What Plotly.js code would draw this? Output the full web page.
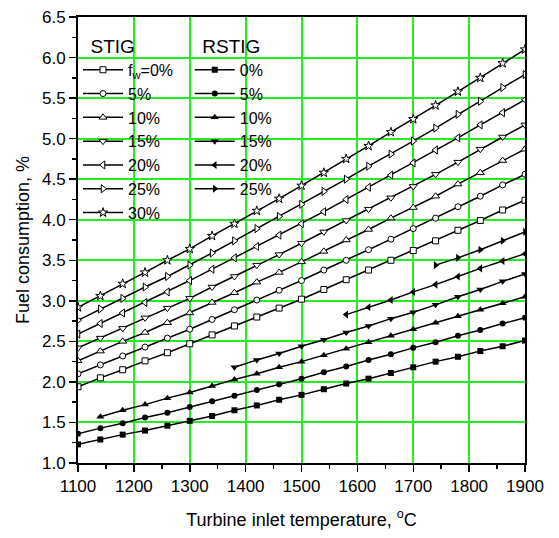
<!DOCTYPE html>
<html><head><meta charset="utf-8">
<script src="https://cdn.plot.ly/plotly-3.0.1.min.js"></script>
<style>html,body{margin:0;padding:0;background:#fff;}#chart{width:559px;height:538px;}</style>
</head><body><div id="chart"></div>
<script>
// Turbine inlet temperature, °C
const tempSTIG = [1100,1140,1180,1220,1260,1300,1340,1380,1420,1460,1500,1540,1580,1620,1660,1700,1740,1780,1820,1860,1900];
const tempR0  = [1100,1140,1180,1220,1260,1300,1340,1380,1420,1460,1500,1540,1580,1620,1660,1700,1740,1780,1820,1860,1900];
const tempR10 = [1140,1180,1220,1260,1300,1340,1380,1420,1460,1500,1540,1580,1620,1660,1700,1740,1780,1820,1860,1900];
const tempR15 = [1380,1420,1460,1500,1540,1580,1620,1660,1700,1740,1780,1820,1860,1900];
const tempR20 = [1580,1620,1660,1700,1740,1780,1820,1860,1900];
const tempR25 = [1740,1780,1820,1860,1900];

// STIG fuel consumption, %
const stig0  = [1.94,2.05,2.15,2.26,2.36,2.47,2.58,2.69,2.80,2.91,3.02,3.14,3.26,3.38,3.50,3.62,3.74,3.87,3.99,4.12,4.24];
const stig5  = [2.10,2.21,2.32,2.43,2.54,2.65,2.77,2.89,3.01,3.13,3.25,3.38,3.50,3.63,3.76,3.89,4.02,4.16,4.29,4.43,4.56];
const stig10 = [2.26,2.38,2.50,2.61,2.73,2.85,2.98,3.10,3.23,3.35,3.48,3.61,3.75,3.88,4.02,4.15,4.29,4.44,4.58,4.73,4.87];
const stig15 = [2.42,2.54,2.66,2.79,2.91,3.03,3.17,3.30,3.44,3.57,3.71,3.85,3.99,4.13,4.27,4.41,4.56,4.71,4.87,5.02,5.17];
const stig20 = [2.59,2.72,2.85,2.98,3.11,3.25,3.39,3.53,3.67,3.81,3.95,4.10,4.25,4.40,4.55,4.70,4.86,5.01,5.17,5.32,5.48];
const stig25 = [2.76,2.90,3.03,3.17,3.30,3.44,3.59,3.74,3.89,4.04,4.19,4.35,4.50,4.66,4.81,4.97,5.13,5.30,5.46,5.63,5.79];
const stig30 = [2.92,3.06,3.21,3.35,3.50,3.64,3.80,3.95,4.11,4.26,4.42,4.58,4.75,4.91,5.08,5.24,5.41,5.58,5.75,5.93,6.10];

// RSTIG fuel consumption, %
const rstig0  = [1.23,1.29,1.35,1.40,1.46,1.52,1.58,1.65,1.71,1.78,1.84,1.91,1.98,2.04,2.11,2.18,2.25,2.31,2.38,2.44,2.51];
const rstig5  = [1.36,1.43,1.49,1.56,1.62,1.69,1.76,1.83,1.90,1.97,2.04,2.12,2.19,2.27,2.34,2.42,2.49,2.57,2.64,2.72,2.79];
const rstig10 = [1.57,1.65,1.72,1.80,1.87,1.95,2.03,2.10,2.18,2.25,2.33,2.41,2.49,2.57,2.65,2.73,2.81,2.89,2.97,3.05];
const rstig15 = [2.18,2.27,2.35,2.44,2.52,2.61,2.69,2.78,2.86,2.95,3.05,3.14,3.24,3.33];
const rstig20 = [2.83,2.92,3.01,3.11,3.20,3.30,3.40,3.49,3.58];
const rstig25 = [3.44,3.53,3.63,3.74,3.85];

const stigLabels  = ['f<sub>w</sub>=0%','5%','10%','15%','20%','25%','30%'];
const rstigLabels = ['0%','5%','10%','15%','20%','25%'];

const FONT = 'Liberation Sans, Arial, sans-serif';
const stigSeries = [stig0,stig5,stig10,stig15,stig20,stig25,stig30];
const stigSymbols = ['square','circle','triangle-up','triangle-down','triangle-left','triangle-right','star'];
const rstigSeries = [[tempR0,rstig0],[tempR0,rstig5],[tempR10,rstig10],[tempR15,rstig15],[tempR20,rstig20],[tempR25,rstig25]];
const rstigSymbols = ['square','circle','triangle-up','triangle-down','triangle-left','triangle-right'];
const symSize = {'square':6,'circle':6,'triangle-up':7,'triangle-down':7,'triangle-left':7,'triangle-right':7,'star':7};

const traces = [];
stigSeries.forEach((ys,i)=>{
  traces.push({
    x: tempSTIG, y: ys, name: stigLabels[i], type:'scatter', mode:'lines+markers',
    legend:'legend',
    line:{color:'#000', width:1.5},
    marker:{symbol:stigSymbols[i], size: symSize[stigSymbols[i]], color:'#fff', line:{color:'#000', width:1}}
  });
});
rstigSeries.forEach((s,i)=>{
  traces.push({
    x: s[0], y: s[1], name: rstigLabels[i], type:'scatter', mode:'lines+markers',
    legend:'legend2',
    line:{color:'#000', width:1.5},
    marker:{symbol:rstigSymbols[i], size: symSize[rstigSymbols[i]], color:'#000', line:{color:'#000', width:0}}
  });
});

const axisCommon = {
  showline:true, linecolor:'#000', linewidth:2, mirror:true,
  ticks:'outside', ticklen:7, tickwidth:1.5, tickcolor:'#000',
  showgrid:true, gridcolor:'#22ee22', gridwidth:2,
  zeroline:false, layer:'below traces',
  tickfont:{family:FONT, size:17, color:'#000'}
};

const layout = {
  width:559, height:538,
  margin:{l:78, r:34, t:17, b:75},
  paper_bgcolor:'#fff', plot_bgcolor:'#fff',
  font:{family:FONT, color:'#000'},
  xaxis: Object.assign({}, axisCommon, {
    range:[1100,1900], dtick:100, tick0:1100,
    minor:{dtick:50, ticks:'outside', ticklen:4, tickcolor:'#000', tickwidth:1.5, showgrid:false},
    title:{text:'Turbine inlet temperature, <sup>o</sup>C', font:{family:FONT, size:18, color:'#000'}, standoff:18}
  }),
  yaxis: Object.assign({}, axisCommon, {
    range:[1,6.5], dtick:0.5, tick0:1, tickformat:'.1f',
    minor:{dtick:0.25, ticks:'outside', ticklen:4, tickcolor:'#000', tickwidth:1.5, showgrid:false},
    title:{text:'Fuel consumption, %', font:{family:FONT, size:18, color:'#000'}, standoff:8}
  }),
  legend:{
    x:0.0, y:0.975, xanchor:'left', yanchor:'top', bgcolor:'rgba(0,0,0,0)',
    font:{family:FONT, size:16, color:'#000'}, itemwidth:40, tracegroupgap:0,
    title:{text:'&nbsp;&nbsp;STIG', font:{family:FONT, size:19, color:'#000'}}
  },
  legend2:{
    x:0.25, y:0.975, xanchor:'left', yanchor:'top', bgcolor:'rgba(0,0,0,0)',
    font:{family:FONT, size:16, color:'#000'}, itemwidth:40, tracegroupgap:0,
    title:{text:'&nbsp;&nbsp;RSTIG', font:{family:FONT, size:19, color:'#000'}}
  },
  showlegend:true
};

Plotly.newPlot('chart', traces, layout, {displayModeBar:false, staticPlot:true});
</script>
</body></html>
